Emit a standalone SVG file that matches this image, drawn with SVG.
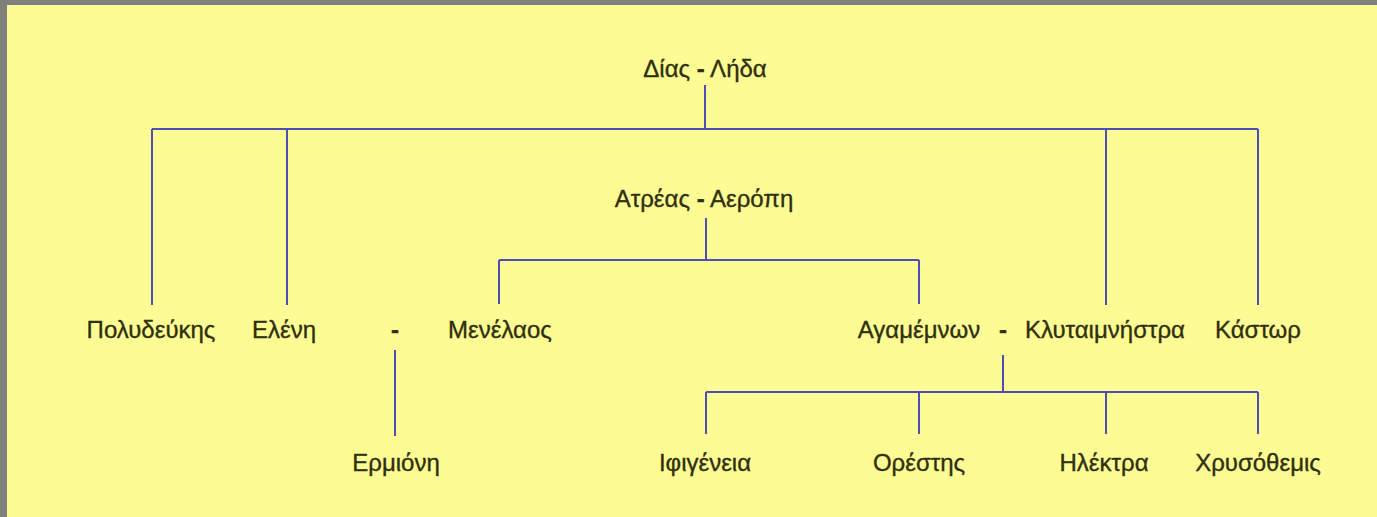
<svg xmlns="http://www.w3.org/2000/svg" width="1377" height="517" viewBox="0 0 1377 517">
<style>
text{font-family:"Liberation Sans","Noto Sans",sans-serif;font-size:24px;fill:#2f2f0c;stroke:#2f2f0c;stroke-width:0.35;text-anchor:middle}
.d{font-weight:bold}
.c line{stroke:#4e4eb4;stroke-width:2;fill:none}
</style>
<rect x="0" y="0" width="1377" height="517" fill="#80807a"/>
<rect x="7" y="5" width="1370" height="512" fill="#fdfc94"/>
<g class="c" id="connectors">
<line x1="705" y1="85" x2="705" y2="129"/>
<line x1="152" y1="129" x2="1258" y2="129"/>
<line x1="152" y1="129" x2="152" y2="305"/>
<line x1="287" y1="129" x2="287" y2="305"/>
<line x1="1106" y1="129" x2="1106" y2="305"/>
<line x1="1258" y1="129" x2="1258" y2="305"/>
<line x1="706" y1="218" x2="706" y2="260"/>
<line x1="499" y1="260" x2="919" y2="260"/>
<line x1="499" y1="260" x2="499" y2="304"/>
<line x1="919" y1="260" x2="919" y2="304"/>
<line x1="395" y1="350" x2="395" y2="436"/>
<line x1="1003" y1="355" x2="1003" y2="392"/>
<line x1="706" y1="392" x2="1258" y2="392"/>
<line x1="706" y1="392" x2="706" y2="434"/>
<line x1="919" y1="392" x2="919" y2="434"/>
<line x1="1106" y1="392" x2="1106" y2="434"/>
<line x1="1258" y1="392" x2="1258" y2="434"/>
</g>
<g id="dias-lida"><text x="705" y="77">Δίας <tspan class="d">-</tspan> Λήδα</text></g>
<g id="atreas-aeropi"><text x="704" y="207">Ατρέας <tspan class="d">-</tspan> Αερόπη</text></g>
<g id="polydeukis"><text x="151" y="338">Πολυδεύκης</text></g>
<g id="eleni"><text x="284" y="338">Ελένη</text></g>
<g id="dash1"><text x="395" y="338" class="d">-</text></g>
<g id="menelaos"><text x="500" y="338">Μενέλαος</text></g>
<g id="agamemnon"><text x="919" y="338">Αγαμέμνων</text></g>
<g id="dash2"><text x="1003" y="338" class="d">-</text></g>
<g id="klytaimnistra"><text x="1105" y="338">Κλυταιμνήστρα</text></g>
<g id="kastor"><text x="1258" y="338">Κάστωρ</text></g>
<g id="ermioni"><text x="396" y="471">Ερμιόνη</text></g>
<g id="ifigeneia"><text x="705" y="471">Ιφιγένεια</text></g>
<g id="orestis"><text x="919" y="471">Ορέστης</text></g>
<g id="ilektra"><text x="1104" y="471">Ηλέκτρα</text></g>
<g id="chrysothemis"><text x="1258" y="471">Χρυσόθεμις</text></g>
</svg>
